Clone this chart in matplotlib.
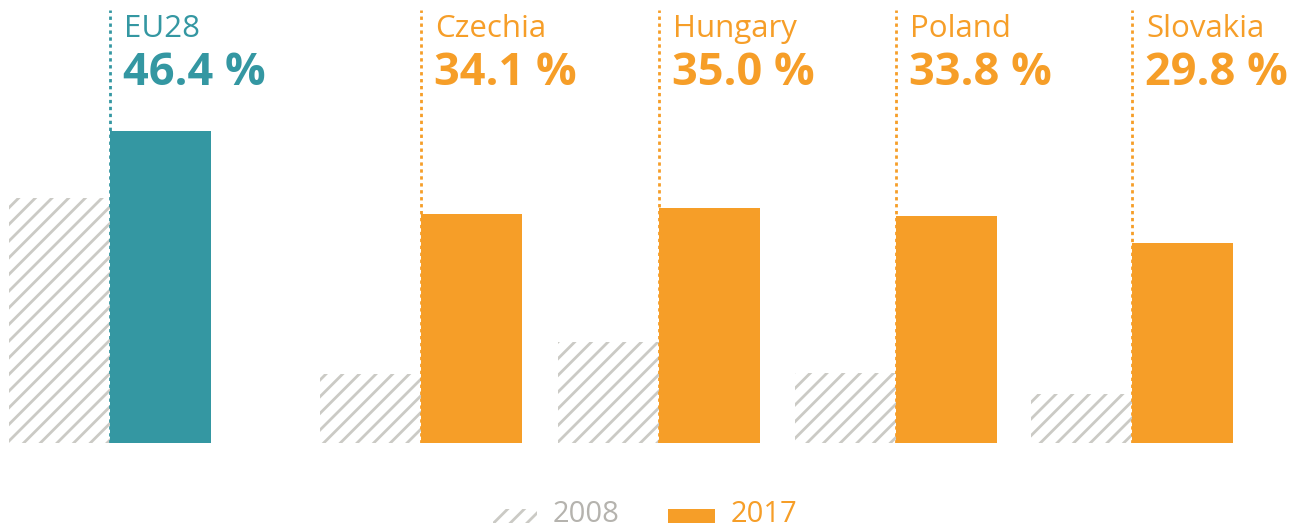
import matplotlib.pyplot as plt
from matplotlib.patches import Rectangle

# share of population (%) per country, 2008 vs 2017
countries = ['EU28', 'Czechia', 'Hungary', 'Poland', 'Slovakia']
values_2008 = [36.4, 10.3, 15.0, 10.4, 7.3]
values_2017 = [46.4, 34.1, 35.0, 33.8, 29.8]
years = ['2008', '2017']

TEAL = '#3497a2'
ORANGE = '#f69e28'
HATCH_GREY = '#cbcac5'
LEGEND_GREY = '#b5b3ae'
colors = [TEAL, ORANGE, ORANGE, ORANGE, ORANGE]

plt.rcParams['font.family'] = ['Open Sans', 'DejaVu Sans']
plt.rcParams['hatch.linewidth'] = 2.0

W, H = 1299, 528
fig = plt.figure(figsize=(W / 100, H / 100), dpi=100)
base_px = 85           # baseline height above the bottom edge
px_per_pct = 6.724
ax = fig.add_axes([0, base_px / H, 1, (H - base_px) / H])
ax.set_xlim(0, W)
ax.set_ylim(0, (H - base_px) / px_per_pct)
ax.axis('off')

# split point of each pair of bars (left = 2008, right = 2017)
split = [110, 421, 659, 896, 1132]
bw = 101

ax.bar([s - bw / 2 for s in split], values_2008, width=bw, color='white',
       edgecolor=HATCH_GREY, linewidth=0, hatch='//')
ax.bar([s + bw / 2 for s in split], values_2017, width=bw, color=colors,
       linewidth=0)

top_frac = (H - base_px - 10) / (H - base_px)
for s, name, v, c in zip(split, countries, values_2017, colors):
    ax.axvline(s, ymin=0, ymax=top_frac, color=c, lw=2, ls=(0, (1.2, 1.3)),
               zorder=3)
    fig.text((s + 14) / W, 1 - 37 / H, name, color=c, fontsize=22.5,
             va='baseline', ha='left')
    fig.text((s + 13) / W, 1 - 85 / H, f'{v:.1f} %', color=c, fontsize=32.5,
             fontweight='bold', va='baseline', ha='left')

# legend
sw_y = 1 - 523 / H
sw_h = 14 / H
fig.patches.append(Rectangle((493 / W, sw_y), 44 / W, sw_h, transform=fig.transFigure,
                             facecolor='white', edgecolor=HATCH_GREY, lw=0, hatch='//'))
fig.text(553 / W, 1 - 522 / H, years[0], color=LEGEND_GREY, fontsize=21, va='baseline')
fig.patches.append(Rectangle((668 / W, sw_y), 47 / W, sw_h, transform=fig.transFigure,
                             facecolor=ORANGE, lw=0))
fig.text(731 / W, 1 - 522 / H, years[1], color=ORANGE, fontsize=21, va='baseline')

fig.savefig('out.png', dpi=100)
